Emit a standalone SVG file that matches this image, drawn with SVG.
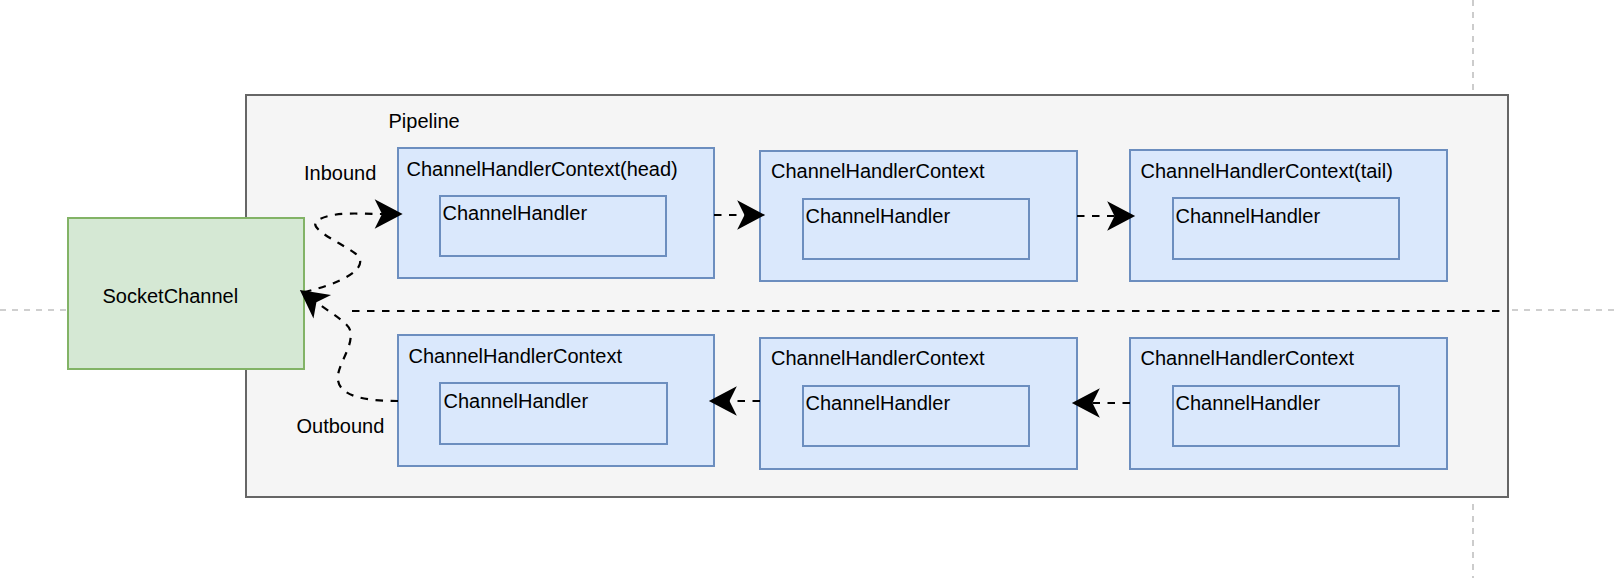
<svg xmlns="http://www.w3.org/2000/svg" width="1616" height="582" viewBox="0 0 1616 582">
<style>
.guide{stroke:#c0c0c0;stroke-width:1.6;stroke-dasharray:6 6;fill:none}
.pipe{fill:#f5f5f5;stroke:#666666;stroke-width:2}
.ctx{fill:#dae8fc;stroke:#6c8ebf;stroke-width:2}
.sock{fill:#d5e8d4;stroke:#82b366;stroke-width:2}
.edge{fill:none;stroke:#000;stroke-width:2.2;stroke-dasharray:7.5 7.5}
text{font-family:"Liberation Sans",Helvetica,Arial,sans-serif;font-size:20px;fill:#000}
</style>
<defs>
<marker id="arr" markerUnits="userSpaceOnUse" markerWidth="40" markerHeight="40" viewBox="-10 -15 30 30" refX="0" refY="0" orient="auto">
<path d="M15.5,0 L-5.5,-11 L0,0 L-5.5,11 Z" fill="#000"/>
</marker>
</defs>
<rect width="1616" height="582" fill="#ffffff"/>
<g id="guides">
<line class="guide" x1="0" y1="310" x2="1616" y2="310"/>
<line class="guide" x1="1473" y1="0" x2="1473" y2="578"/>
</g>
<g id="pipeline">
<rect class="pipe" x="246" y="95" width="1262" height="402"/>
<text x="388.5" y="128">Pipeline</text>
<text x="304" y="179.5">Inbound</text>
<text x="296.5" y="432.5">Outbound</text>
</g>
<line id="separator" x1="352" y1="311" x2="1507" y2="311" class="edge"/>
<g id="socketchannel">
<rect class="sock" x="68" y="218" width="236" height="151"/>
<text x="102.5" y="302.5">SocketChannel</text>
</g>
<g id="ctx-head">
<rect class="ctx" x="398" y="148" width="316" height="130"/>
<text x="406.5" y="176">ChannelHandlerContext(head)</text>
<rect class="ctx" x="440" y="196" width="226" height="60"/>
<text x="442.5" y="220">ChannelHandler</text>
</g>
<g id="ctx-in-2">
<rect class="ctx" x="760" y="151" width="317" height="130"/>
<text x="771" y="178">ChannelHandlerContext</text>
<rect class="ctx" x="803" y="199" width="226" height="60"/>
<text x="805.5" y="222.5">ChannelHandler</text>
</g>
<g id="ctx-tail">
<rect class="ctx" x="1130" y="150" width="317" height="131"/>
<text x="1140.5" y="178">ChannelHandlerContext(tail)</text>
<rect class="ctx" x="1173" y="198" width="226" height="61"/>
<text x="1175.5" y="222.5">ChannelHandler</text>
</g>
<g id="ctx-out-1">
<rect class="ctx" x="398" y="335" width="316" height="131"/>
<text x="408.5" y="363">ChannelHandlerContext</text>
<rect class="ctx" x="440" y="383" width="227" height="61"/>
<text x="443.5" y="407.5">ChannelHandler</text>
</g>
<g id="ctx-out-2">
<rect class="ctx" x="760" y="338" width="317" height="131"/>
<text x="771" y="364.5">ChannelHandlerContext</text>
<rect class="ctx" x="803" y="386" width="226" height="60"/>
<text x="805.5" y="409.5">ChannelHandler</text>
</g>
<g id="ctx-out-3">
<rect class="ctx" x="1130" y="338" width="317" height="131"/>
<text x="1140.5" y="364.5">ChannelHandlerContext</text>
<rect class="ctx" x="1173" y="386" width="226" height="60"/>
<text x="1175.5" y="409.5">ChannelHandler</text>
</g>
<g id="connectors">
<path class="edge" marker-end="url(#arr)" d="M304 292 C340 284,372 268,356 254 C340 242,305 228,318 220 C335 211,360 214,382 214"/>
<path class="edge" marker-end="url(#arr)" d="M398 401 C370 401,335 398,338 375 C340 361,354 345,350 330 C348 322.5,328.4 311.3,316.4 302.3"/>
<path class="edge" marker-end="url(#arr)" d="M714 215 L744.5 215"/>
<path class="edge" marker-end="url(#arr)" d="M1077 216 L1114.5 216"/>
<path class="edge" marker-end="url(#arr)" d="M1130 403 L1092.5 403"/>
<path class="edge" marker-end="url(#arr)" d="M760 401 L729.5 401"/>
</g>
</svg>
